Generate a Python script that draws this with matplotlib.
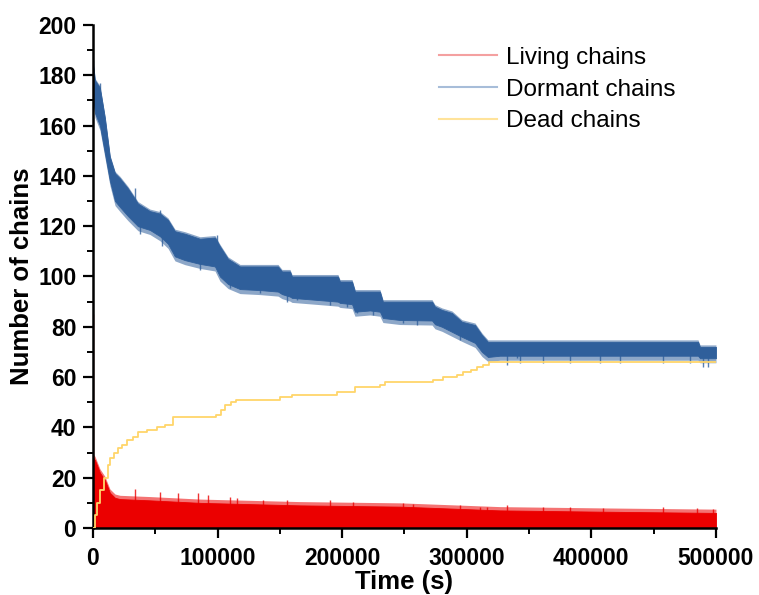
import matplotlib
matplotlib.use("Agg")
import matplotlib.pyplot as plt
from matplotlib.lines import Line2D
from matplotlib.ticker import MultipleLocator
import numpy as np

plt.rcParams['font.family'] = ['Liberation Sans', 'DejaVu Sans']

# ---- Dormant chains: band envelope ----
t_dorm = [0, 1600, 5600, 9600, 13600, 17700, 21700, 28100, 36100, 45700, 53800, 60200, 65800, 73800,
          85900, 97900, 101900, 108400, 118000, 134000, 148500, 151700, 158100, 159700, 182200, 196600,
          198200, 207900, 210300, 222300, 230300, 232700, 246400, 272100, 274500, 280100, 288100, 296100,
          306600, 312200, 317000, 326700, 485600, 487200, 500000]
dorm_upper = [185, 178, 175, 163, 147.5, 141, 139, 135, 129, 126, 125, 122.5, 118, 117, 115, 115.5, 112,
              107, 104, 104, 104, 102, 102, 100, 100, 100, 98, 98, 94, 94, 94, 90, 90, 90, 88, 86.7, 85.5,
              82, 80.7, 76.7, 74, 74, 74, 72, 72]
dorm_lower = [172, 165, 160, 149, 138, 130, 127.6, 124, 120, 118.5, 116, 113, 108, 106.5, 105, 104, 100,
              97, 95, 94.6, 94, 93, 92, 91.5, 90.6, 90, 89.5, 89, 86, 86.5, 86, 83.5, 82.7, 82.5, 81, 80,
              78, 76, 73.6, 70, 68, 68.5, 68.5, 67.5, 67.5]
# downward spikes of dormant chains
dorm_spk_t = [37700, 55400, 65800, 85900, 105900, 110000, 134000, 155700, 163700, 190200, 203900, 211900,
              224700, 248800, 260000, 294500, 313000, 332300, 340300, 342700, 361200, 382800, 406900,
              423000, 457500, 479200, 489900, 494000]
dorm_spk_v = [117, 112, 108, 102.6, 98.6, 95.4, 93.4, 90, 90.6, 88.7, 88, 85.5, 84.7, 81.5, 80.7, 74.7,
              70.8, 64.8, 67.6, 65.6, 65.6, 65.6, 65.6, 65.6, 65.6, 65.6, 64, 64]
# upward spikes of dormant chains
dorm_up_t = [0, 5600, 33700, 53800, 99500]
dorm_up_v = [186, 177, 135, 126.4, 116.5]

# ---- Living chains ----
t_live = [0, 1600, 5600, 9600, 13600, 17700, 21700, 45700, 85900, 166100, 246400, 326700, 406900, 500000]
live_upper = [28, 27, 22, 19, 14, 12, 11.5, 11, 10, 9, 8.5, 7, 6.5, 6]
live_spk_t = [0, 33700, 53800, 68200, 84300, 92300, 110000, 115600, 136400, 155700, 190200, 208700,
              248800, 256800, 294500, 310600, 316200, 332300, 361200, 382800, 409300, 457500, 484800, 497600]
live_spk_v = [85, 15.5, 14.3, 14, 14, 13, 12.5, 12, 11, 11, 11, 10.5, 10, 9.5, 9, 8.5, 8.5, 9, 8.5, 8.5,
              8, 8.5, 8, 7.5]

# ---- Dead chains (step curve) ----
t_dead = [0, 1500, 3000, 6000, 9000, 12000, 14000, 17000, 20000, 23000, 27000, 32000, 36000, 43000,
          51000, 58000, 64000, 99000, 103000, 106000, 111000, 115000, 150000, 160000, 196000, 210000,
          230000, 234000, 273000, 281000, 292000, 297000, 303000, 308000, 313000, 318000, 500000]
v_dead = [0, 5, 10, 15, 20, 25, 28, 30, 32, 33, 35, 36, 38, 39, 40, 41, 44, 45, 47, 49, 50, 51, 52, 53,
          54, 56, 57, 58, 59, 60, 61, 62, 63, 64, 65, 66, 66]

legend_labels = ["Living chains", "Dormant chains", "Dead chains"]

RED = '#EB0000'
BLUE = '#2F5F9B'
YEL = '#FFD56A'

fig = plt.figure(figsize=(7.59, 5.95), dpi=100)
ax = fig.add_axes([0.1225, 0.1126, 0.8208, 0.8454])

lu = np.array(live_upper)
du = np.array(dorm_upper)
dl = np.array(dorm_lower)

# living: fuzzy fringe + dense core
ax.fill_between(t_live, 0, lu + 1.5, color=RED, lw=0, alpha=0.55)
ax.fill_between(t_live, 0, lu, color=RED, lw=0.6, edgecolor=RED)
ax.vlines(live_spk_t, 0, live_spk_v, color=RED, lw=1.0, alpha=0.8)
# dormant: fuzzy fringe + dense core
ax.fill_between(t_dorm, dl - 1.8, du + 0.8, color=BLUE, lw=0, alpha=0.55)
ax.fill_between(t_dorm, dl, du, color=BLUE, lw=0.6, edgecolor=BLUE)
d_lo = np.interp(dorm_spk_t, t_dorm, dorm_lower)
ax.vlines(dorm_spk_t, dorm_spk_v, d_lo + 1, color=BLUE, lw=1.0, alpha=0.8)
d_hi = np.interp(dorm_up_t, t_dorm, dorm_upper)
ax.vlines(dorm_up_t, d_hi - 1, dorm_up_v, color=BLUE, lw=1.0, alpha=0.8)
# dead
ax.plot(t_dead, v_dead, drawstyle='steps-post', color=YEL, lw=1.3, zorder=3)

ax.set_xlim(0, 500000)
ax.set_ylim(0, 200)
ax.xaxis.set_major_locator(MultipleLocator(100000))
ax.xaxis.set_minor_locator(MultipleLocator(50000))
ax.yaxis.set_major_locator(MultipleLocator(20))
ax.yaxis.set_minor_locator(MultipleLocator(10))

for s in ['top', 'right']:
    ax.spines[s].set_visible(False)
for s in ['left', 'bottom']:
    ax.spines[s].set_linewidth(1.8)

ax.tick_params(which='major', direction='out', length=7, width=1.6, labelsize=16.5)
ax.tick_params(axis='x', which='major', pad=7)
ax.tick_params(axis='y', which='major', pad=5)
ax.tick_params(which='minor', direction='out', length=4, width=1.4)
for lab in ax.get_xticklabels() + ax.get_yticklabels():
    lab.set_fontweight('bold')
ax.ticklabel_format(axis='x', style='plain')

ax.set_xlabel("Time (s)", fontsize=18.5, fontweight='bold', labelpad=0)
ax.set_ylabel("Number of chains", fontsize=18.5, fontweight='bold', labelpad=3)

handles = [Line2D([], [], color='#F4A0A0', lw=1.5),
           Line2D([], [], color='#A7BDD9', lw=1.5),
           Line2D([], [], color='#FFE39A', lw=1.5)]
ax.legend(handles, legend_labels, loc='upper left', bbox_to_anchor=(0.52, 1.0), frameon=False,
          fontsize=17.5, handlelength=2.4, handletextpad=0.35, labelspacing=0.4)

fig.savefig("out.png", dpi=100, facecolor='white')
